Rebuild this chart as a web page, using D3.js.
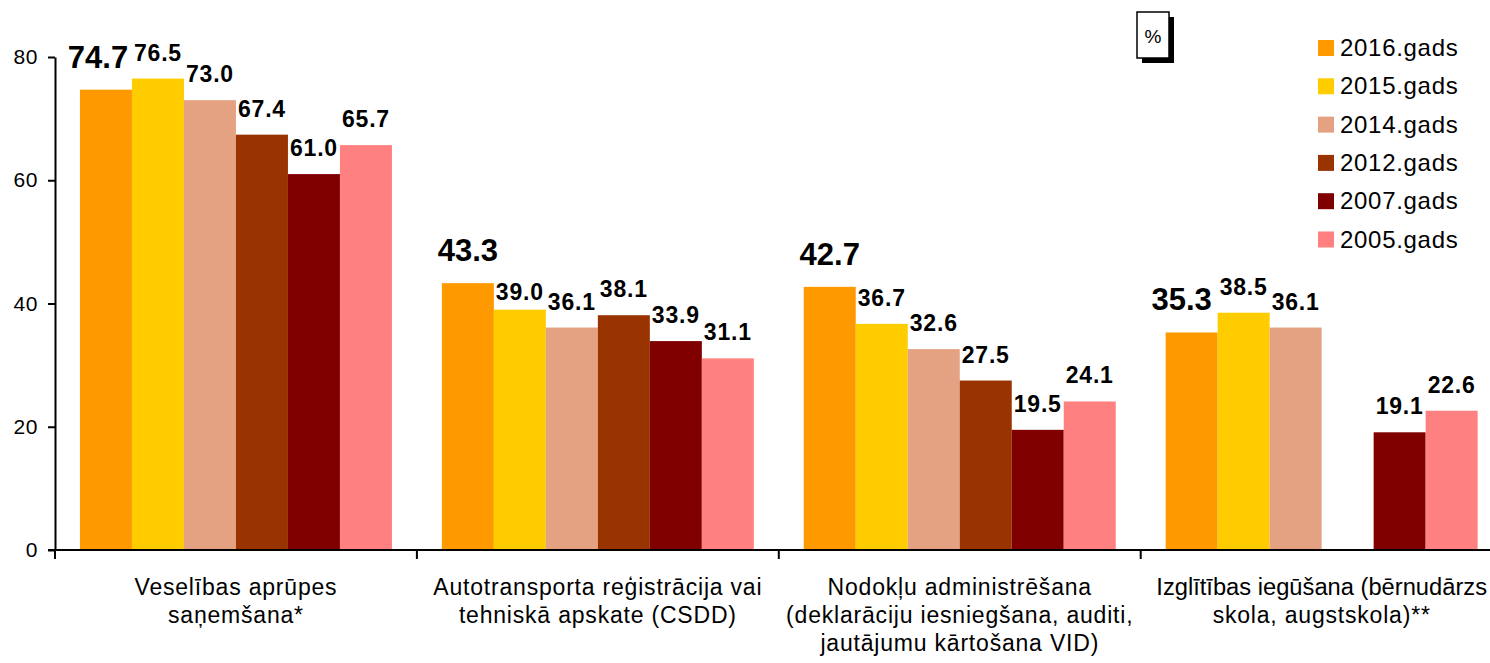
<!DOCTYPE html>
<html>
<head>
<meta charset="utf-8">
<script src="https://cdn.jsdelivr.net/npm/d3@7"></script>
<style>
	body { margin: 0; background: #fff; }
	svg { display: block; font-family: 'Liberation Sans', Arial, sans-serif; }
</style>
</head>
<body>
<div id="chart"></div>
<script>
var categories = [
	['Veselības aprūpes', 'saņemšana*'],
	['Autotransporta reģistrācija vai', 'tehniskā apskate (CSDD)'],
	['Nodokļu administrēšana', '(deklarāciju iesniegšana, auditi,', 'jautājumu kārtošana VID)'],
	['Izglītības iegūšana (bērnudārzs', 'skola, augstskola)**']
];
var years = ['2016.gads', '2015.gads', '2014.gads', '2012.gads', '2007.gads', '2005.gads'];
var colors = ['#ff9900', '#ffcc00', '#e5a282', '#993300', '#800000', '#ff8080'];

var v2016 = [74.7, 43.3, 42.7, 35.3];
var v2015 = [76.5, 39.0, 36.7, 38.5];
var v2014 = [73.0, 36.1, 32.6, 36.1];
var v2012 = [67.4, 38.1, 27.5, null];
var v2007 = [61.0, 33.9, 19.5, 19.1];
var v2005 = [65.7, 31.1, 24.1, 22.6];

var yTicks = [0, 20, 40, 60, 80];
var unitLabel = '%';

var Chart = {

	width: 1490,
	height: 663,

	init: function() {
		var svg = d3.select('#chart')
			.append('svg')
			.attr('width', Chart.width)
			.attr('height', Chart.height);

		svg.append('rect')
			.attr('width', Chart.width)
			.attr('height', Chart.height)
			.attr('fill', '#fff');

		var series = [v2016, v2015, v2014, v2012, v2007, v2005];

		// the plot runs a little past the right edge, like the original
		var x0 = d3.scaleBand().domain(d3.range(categories.length)).range([55, 1502.6]);
		var x1 = d3.scaleBand().domain(years).range([0, x0.bandwidth()]).paddingOuter(0.48);
		var y = d3.scaleLinear().domain([0, 80]).range([550, 57]);

		Chart.drawBars(svg, series, x0, x1, y);
		Chart.drawAxes(svg, x0, y);
		Chart.drawLabels(svg, series, x0, x1, y);
		Chart.drawLegend(svg);
		Chart.drawUnitBox(svg);
	},

	rows: function(series) {
		var rows = [];
		series.forEach(function(vals, i) {
			vals.forEach(function(v, j) {
				if (v !== null) rows.push({s: i, c: j, v: v});
			});
		});
		return rows;
	},

	drawBars: function(svg, series, x0, x1, y) {
		svg.append('g')
			.selectAll('rect')
			.data(Chart.rows(series))
			.enter()
			.append('rect')
			.attr('x', function(d) { return x0(d.c) + x1(years[d.s]); })
			.attr('width', x1.bandwidth())
			.attr('y', function(d) { return y(d.v); })
			.attr('height', function(d) { return y(0) - y(d.v); })
			.style('fill', function(d) { return colors[d.s]; });
	},

	drawAxes: function(svg, x0, y) {
		var yAxis = svg.append('g')
			.attr('transform', 'translate(55,0)')
			.call(d3.axisLeft(y).tickValues(yTicks).tickSize(7).tickSizeOuter(0).tickPadding(10))
			.attr('font-family', null)
			.attr('font-size', null);

		yAxis.select('.domain').attr('stroke', '#000').attr('stroke-width', 2);
		yAxis.selectAll('.tick line').attr('stroke', '#000').attr('stroke-width', 2);
		yAxis.selectAll('.tick text')
			.attr('fill', '#000')
			.style('font-size', '21px')
			.style('letter-spacing', '0.6px');

		// category axis: baseline plus boundary ticks below it
		var bounds = x0.domain().map(function(c) { return x0(c); }).concat([x0.range()[1]]);
		var xAxis = svg.append('g');
		xAxis.append('line')
			.attr('x1', 48)
			.attr('x2', x0.range()[1])
			.attr('y1', y(0))
			.attr('y2', y(0))
			.attr('stroke', '#000')
			.attr('stroke-width', 2);
		xAxis.selectAll('line.tick')
			.data(bounds)
			.enter()
			.append('line')
			.attr('class', 'tick')
			.attr('x1', function(d) { return d; })
			.attr('x2', function(d) { return d; })
			.attr('y1', y(0))
			.attr('y2', y(0) + 9)
			.attr('stroke', '#000')
			.attr('stroke-width', 2);

		var lines = [];
		categories.forEach(function(c, i) {
			c.forEach(function(t, k) { lines.push({t: t, c: i, k: k}); });
		});

		xAxis.selectAll('text.cat')
			.data(lines)
			.enter()
			.append('text')
			.attr('class', 'cat')
			.attr('text-anchor', 'middle')
			.style('font-size', '23px')
			.style('letter-spacing', '0.8px')
			.attr('fill', '#000')
			.attr('x', function(d) { return x0(d.c) + x0.bandwidth() / 2; })
			.attr('y', function(d) { return 595 + d.k * 28; })
			.text(function(d) { return d.t; })
			.each(function(d) {
				// squeeze a line that would run past the right edge
				var cx = x0(d.c) + x0.bandwidth() / 2,
					room = 2 * (Chart.width - 3 - cx),
					w = this.getComputedTextLength();
				if (w > room) {
					d3.select(this)
						.style('letter-spacing', '0px')
						.attr('textLength', room)
						.attr('lengthAdjust', 'spacingAndGlyphs');
				}
			});
	},

	drawLabels: function(svg, series, x0, x1, y) {
		var fmt = d3.format('.1f');
		// hand nudges where the original labels were moved apart
		var nudge = {'0-0': [-8, 0], '0-3': [-10, 0], '1-1': [0, 8]};

		svg.append('g')
			.selectAll('text')
			.data(Chart.rows(series))
			.enter()
			.append('text')
			.attr('text-anchor', 'middle')
			.attr('x', function(d) {
				var n = nudge[d.s + '-' + d.c] || [0, 0];
				return x0(d.c) + x1(years[d.s]) + x1.bandwidth() / 2 + n[0];
			})
			.attr('y', function(d) {
				var n = nudge[d.s + '-' + d.c] || [0, 0];
				return y(d.v) - (d.s === 0 ? 22 : 18) + n[1];
			})
			.style('font-weight', 'bold')
			.style('font-size', function(d) { return d.s === 0 ? '31px' : '23px'; })
			.style('letter-spacing', function(d) { return d.s === 0 ? '0px' : '0.8px'; })
			.attr('fill', '#000')
			.text(function(d) { return fmt(d.v); });
	},

	drawLegend: function(svg) {
		var item = svg.append('g')
			.attr('transform', 'translate(1318,40)')
			.selectAll('g')
			.data(years)
			.enter()
			.append('g')
			.attr('transform', function(d, i) { return 'translate(0,' + (i * 38.3) + ')'; });

		item.append('rect')
			.attr('width', 16)
			.attr('height', 16)
			.style('fill', function(d, i) { return colors[i]; });

		item.append('text')
			.attr('x', 22)
			.attr('y', 16)
			.style('font-size', '24px')
			.style('letter-spacing', '0.7px')
			.attr('fill', '#000')
			.text(function(d) { return d; });
	},

	drawUnitBox: function(svg) {
		var g = svg.append('g').attr('transform', 'translate(1137,12)');
		g.append('rect')
			.attr('x', 5)
			.attr('y', 5)
			.attr('width', 32)
			.attr('height', 46)
			.attr('fill', '#000');
		g.append('rect')
			.attr('width', 32)
			.attr('height', 46)
			.attr('fill', '#fff')
			.attr('stroke', '#000')
			.attr('stroke-width', 1.5);
		g.append('text')
			.attr('x', 16)
			.attr('y', 31)
			.attr('text-anchor', 'middle')
			.style('font-size', '19px')
			.attr('fill', '#000')
			.text(unitLabel);
	}
};

Chart.init();
</script>
</body>
</html>
